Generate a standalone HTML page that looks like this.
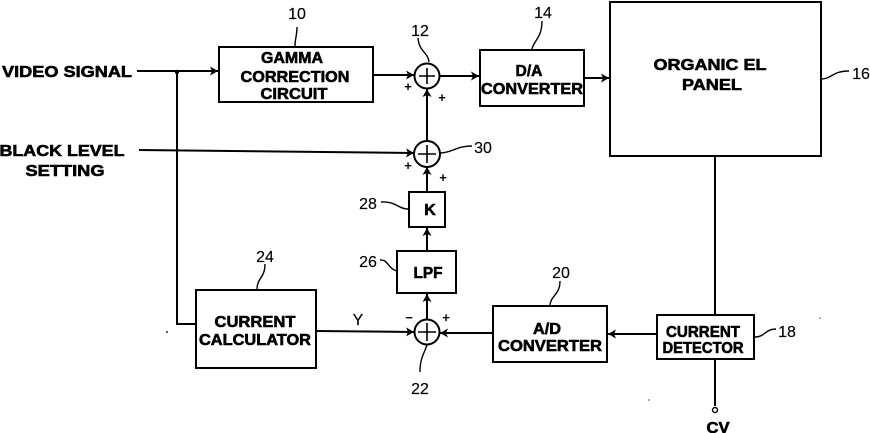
<!DOCTYPE html>
<html><head><meta charset="utf-8"><style>
html,body{margin:0;padding:0;background:#fff}
svg{display:block}
.b{font-family:"Liberation Sans",sans-serif;font-weight:bold;font-size:16px;fill:#000;text-anchor:middle;stroke:#000;stroke-width:.6px}
.n{font-family:"Liberation Sans",sans-serif;font-size:16px;fill:#000;text-anchor:middle;stroke:#000;stroke-width:.15px}
.p{font-family:"Liberation Sans",sans-serif;font-weight:bold;font-size:13px;fill:#000;text-anchor:middle}
</style></head><body>
<svg width="870" height="433" viewBox="0 0 870 433" xmlns="http://www.w3.org/2000/svg">
<defs><marker id="a" markerUnits="userSpaceOnUse" markerWidth="9" markerHeight="10" refX="8" refY="5" orient="auto"><path d="M0 .5L8 5L0 9.5L2 5Z" fill="#000"/></marker></defs>
<g fill="none" stroke="#000" stroke-width="2">
<rect x="219" y="47" width="154" height="55"/>
<rect x="480" y="50" width="104" height="56"/>
<rect x="610" y="2" width="211" height="154"/>
<rect x="409" y="192" width="36" height="35"/>
<rect x="397" y="251" width="59" height="42"/>
<rect x="196" y="290" width="120" height="78"/>
<rect x="493" y="306" width="114" height="56"/>
<rect x="657" y="315" width="97" height="44"/>
<circle cx="427" cy="76" r="12.5"/>
<circle cx="427" cy="154" r="13"/>
<circle cx="427" cy="332" r="12.5"/>
<path d="M419 76H435M427 68V84M418 154H436M427 145V163M418 332H436M427 323V341" stroke-width="1.6"/>
<path d="M137 71H218" marker-end="url(#a)"/>
<path d="M177 71V324H196"/>
<path d="M373 75H414" marker-end="url(#a)"/>
<path d="M440 76H479" marker-end="url(#a)"/>
<path d="M584 78H609" marker-end="url(#a)"/>
<path d="M139 150L414 153" marker-end="url(#a)"/>
<path d="M427 141V89" marker-end="url(#a)"/>
<path d="M427 192V167" marker-end="url(#a)"/>
<path d="M427 251V228" marker-end="url(#a)"/>
<path d="M427 319V294" marker-end="url(#a)"/>
<path d="M316 331L414 332" marker-end="url(#a)"/>
<path d="M493 333H440" marker-end="url(#a)"/>
<path d="M657 334H608" marker-end="url(#a)"/>
<path d="M715 156V315M715 359V406"/>
</g>
<circle cx="177" cy="72" r="2.2" fill="#000"/>
<circle cx="715" cy="410" r="2.5" fill="#fff" stroke="#000" stroke-width="1.4"/>
<circle cx="167" cy="332" r="1" fill="#333"/>
<circle cx="820" cy="318" r=".8" fill="#555"/>
<circle cx="649" cy="400" r=".8" fill="#555"/>
<g fill="none" stroke="#000" stroke-width="1.4">
<path d="M295 46C295 38 297 36 297 27"/>
<path d="M429 62C428 52 419 52 418 38"/>
<path d="M532 49C534 40 542 38 542 21"/>
<path d="M821 79C832 79 832 71 849 71"/>
<path d="M440 153C452 153 456 146 472 146"/>
<path d="M408 209C398 209 396 201 381 202"/>
<path d="M397 271C388 269 388 259 380 260"/>
<path d="M257 289C257 278 265 278 265 264"/>
<path d="M427 345C424 354 420 358 420 372"/>
<path d="M550 305C551 295 560 295 560 281"/>
<path d="M755 337C765 337 765 329 776 329"/>
</g>
<g class="labels">
<text class="b" x="67" y="77" textLength="130" lengthAdjust="spacingAndGlyphs">VIDEO SIGNAL</text>
<text class="b" x="62" y="156" textLength="125" lengthAdjust="spacingAndGlyphs">BLACK LEVEL</text>
<text class="b" x="65" y="176" textLength="79" lengthAdjust="spacingAndGlyphs">SETTING</text>
<text class="b" x="292" y="63" textLength="62" lengthAdjust="spacingAndGlyphs">GAMMA</text>
<text class="b" x="295" y="82" textLength="109" lengthAdjust="spacingAndGlyphs">CORRECTION</text>
<text class="b" x="294" y="99" textLength="67" lengthAdjust="spacingAndGlyphs">CIRCUIT</text>
<text class="b" x="529" y="76" textLength="27" lengthAdjust="spacingAndGlyphs">D/A</text>
<text class="b" x="532" y="94" textLength="102" lengthAdjust="spacingAndGlyphs">CONVERTER</text>
<text class="b" x="710" y="70" textLength="113" lengthAdjust="spacingAndGlyphs">ORGANIC EL</text>
<text class="b" x="712" y="90" textLength="60" lengthAdjust="spacingAndGlyphs">PANEL</text>
<text class="b" x="430" y="215">K</text>
<text class="b" x="428" y="278" textLength="29" lengthAdjust="spacingAndGlyphs">LPF</text>
<text class="b" x="255" y="327" textLength="81" lengthAdjust="spacingAndGlyphs">CURRENT</text>
<text class="b" x="255" y="345" textLength="112" lengthAdjust="spacingAndGlyphs">CALCULATOR</text>
<text class="b" x="547" y="334" textLength="28" lengthAdjust="spacingAndGlyphs">A/D</text>
<text class="b" x="550" y="351" textLength="104" lengthAdjust="spacingAndGlyphs">CONVERTER</text>
<text class="b" x="703" y="337" textLength="74" lengthAdjust="spacingAndGlyphs">CURRENT</text>
<text class="b" x="703" y="353" textLength="81" lengthAdjust="spacingAndGlyphs">DETECTOR</text>
<text class="b" x="718" y="433" textLength="23" lengthAdjust="spacingAndGlyphs">CV</text>
<text class="n" x="297" y="19">10</text>
<text class="n" x="420" y="36">12</text>
<text class="n" x="543" y="18">14</text>
<text class="n" x="861" y="79">16</text>
<text class="n" x="483" y="153">30</text>
<text class="n" x="368" y="209">28</text>
<text class="n" x="368" y="267">26</text>
<text class="n" x="265" y="262">24</text>
<text class="n" x="561" y="278">20</text>
<text class="n" x="787" y="337">18</text>
<text class="n" x="420" y="394">22</text>
<text class="n" x="358" y="325">Y</text>
<text class="p" x="408" y="91">+</text>
<text class="p" x="442" y="102">+</text>
<text class="p" x="408" y="170">+</text>
<text class="p" x="443" y="182">+</text>
<text class="p" x="409" y="322">−</text>
<text class="p" x="446" y="322">+</text>
</g>
</svg>
</body></html>
